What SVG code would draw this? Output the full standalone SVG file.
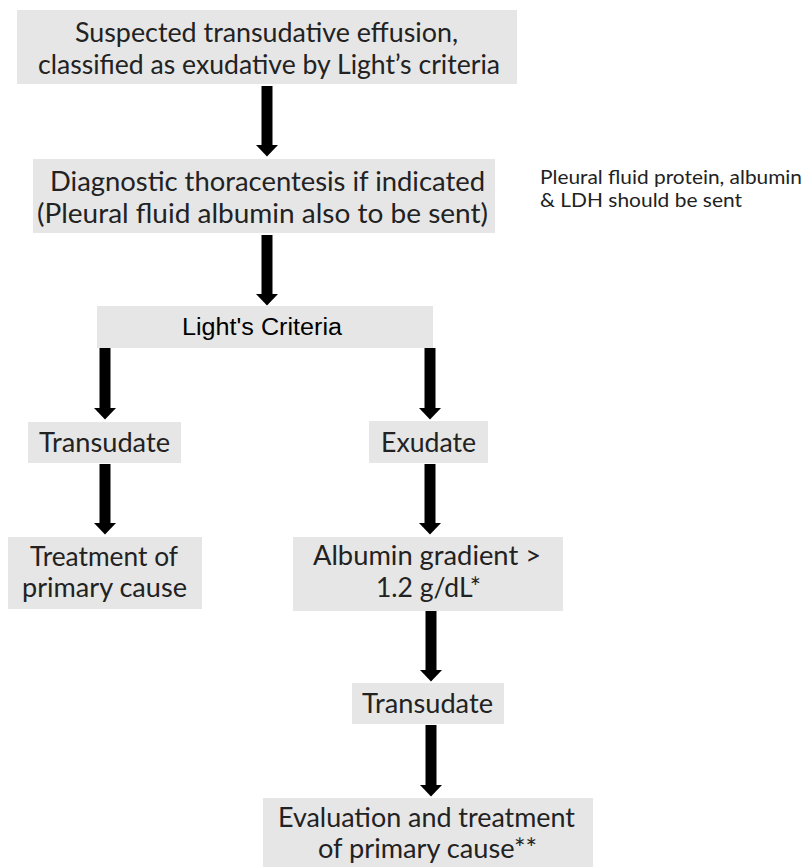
<svg xmlns="http://www.w3.org/2000/svg" xmlns:xlink="http://www.w3.org/1999/xlink" width="809" height="867" viewBox="0 0 809 867">
  <style>
    .box { fill: #e6e6e6; }
    .t { font-family: Lato, "Noto Sans", "Liberation Sans", sans-serif; font-size: 26px; fill: #222222; }
    .ta { font-family: "Liberation Sans", Arial, sans-serif; font-size: 23px; fill: #000000; }
    .side { font-family: Lato, "Noto Sans", "Liberation Sans", sans-serif; font-size: 20px; fill: #222222; }
    .conn { stroke: #000000; stroke-width: 11; fill: none; }
  </style>
  <defs>
    <marker id="head" markerUnits="userSpaceOnUse" viewBox="0 0 12 23" refX="0.5" refY="11.5" markerWidth="12" markerHeight="23" orient="auto">
      <path d="M0,0 L12,11.5 L0,23 Z" fill="#000000"/>
    </marker>
  </defs>
  <rect width="809" height="867" fill="#ffffff"/>

  <g id="connectors">
    <line class="conn" x1="267" y1="86" x2="267" y2="145" marker-end="url(#head)"/>
    <line class="conn" x1="267" y1="235" x2="267" y2="294" marker-end="url(#head)"/>
    <line class="conn" x1="105" y1="348" x2="105" y2="408" marker-end="url(#head)"/>
    <line class="conn" x1="430" y1="348" x2="430" y2="408" marker-end="url(#head)"/>
    <line class="conn" x1="105" y1="464" x2="105" y2="523" marker-end="url(#head)"/>
    <line class="conn" x1="430" y1="464" x2="430" y2="523" marker-end="url(#head)"/>
    <line class="conn" x1="431" y1="611" x2="431" y2="670" marker-end="url(#head)"/>
    <line class="conn" x1="431" y1="725" x2="431" y2="785" marker-end="url(#head)"/>
  </g>

  <g id="n-suspected">
    <rect class="box" x="17" y="10" width="500" height="74"/>
    <text class="t" x="75" y="42" textLength="383" lengthAdjust="spacingAndGlyphs">Suspected transudative effusion,</text>
    <text class="t" x="38" y="74" textLength="462" lengthAdjust="spacingAndGlyphs">classified as exudative by Light’s criteria</text>
  </g>

  <g id="n-thoracentesis">
    <rect class="box" x="33" y="159" width="462" height="74"/>
    <text class="t" x="50" y="191" textLength="435" lengthAdjust="spacingAndGlyphs">Diagnostic thoracentesis if indicated</text>
    <text class="t" x="37" y="223" textLength="451" lengthAdjust="spacingAndGlyphs">(Pleural fluid albumin also to be sent)</text>
  </g>

  <g id="n-note">
    <text class="side" x="540" y="184" textLength="262" lengthAdjust="spacingAndGlyphs">Pleural fluid protein, albumin</text>
    <text class="side" x="540" y="207" textLength="202" lengthAdjust="spacingAndGlyphs">&amp; LDH should be sent</text>
  </g>

  <g id="n-lights">
    <rect class="box" x="97" y="306" width="336" height="42"/>
    <text class="ta" x="182" y="335" textLength="160" lengthAdjust="spacingAndGlyphs">Light's Criteria</text>
  </g>

  <g id="n-transudate1">
    <rect class="box" x="28" y="422" width="153" height="41"/>
    <text class="t" x="39" y="452" textLength="131" lengthAdjust="spacingAndGlyphs">Transudate</text>
  </g>

  <g id="n-exudate">
    <rect class="box" x="369" y="421" width="119" height="42"/>
    <text class="t" x="381" y="452" textLength="95" lengthAdjust="spacingAndGlyphs">Exudate</text>
  </g>

  <g id="n-treatment">
    <rect class="box" x="8" y="537" width="194" height="72"/>
    <text class="t" x="30" y="566" textLength="148" lengthAdjust="spacingAndGlyphs">Treatment of</text>
    <text class="t" x="22" y="597" textLength="165" lengthAdjust="spacingAndGlyphs">primary cause</text>
  </g>

  <g id="n-albumin">
    <rect class="box" x="293" y="537" width="270" height="74"/>
    <text class="t" x="313" y="565" textLength="228" lengthAdjust="spacingAndGlyphs">Albumin gradient &gt;</text>
    <text class="t" x="376" y="597" textLength="105" lengthAdjust="spacingAndGlyphs">1.2 g/dL*</text>
  </g>

  <g id="n-transudate2">
    <rect class="box" x="352" y="683" width="152" height="41"/>
    <text class="t" x="362" y="713" textLength="131" lengthAdjust="spacingAndGlyphs">Transudate</text>
  </g>

  <g id="n-evaluation">
    <rect class="box" x="263" y="798" width="330" height="72"/>
    <text class="t" x="278" y="827" textLength="297" lengthAdjust="spacingAndGlyphs">Evaluation and treatment</text>
    <text class="t" x="318" y="858" textLength="219" lengthAdjust="spacingAndGlyphs">of primary cause**</text>
  </g>
</svg>
